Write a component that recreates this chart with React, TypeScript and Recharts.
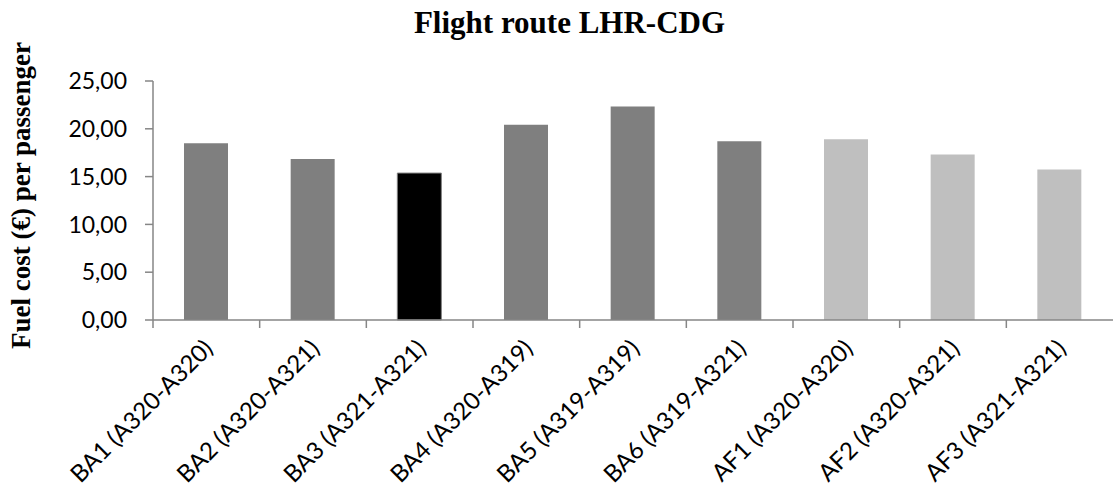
import { BarChart, Bar, XAxis, YAxis, Cell } from 'recharts';

const flights = [
  'BA1 (A320-A320)',
  'BA2 (A320-A321)',
  'BA3 (A321-A321)',
  'BA4 (A320-A319)',
  'BA5 (A319-A319)',
  'BA6 (A319-A321)',
  'AF1 (A320-A320)',
  'AF2 (A320-A321)',
  'AF3 (A321-A321)',
];
const fuelCost = [18.5, 16.85, 15.37, 20.42, 22.32, 18.7, 18.9, 17.3, 15.75];
const yTicks = [0, 5, 10, 15, 20, 25];
const highlighted = 'BA3 (A321-A321)';

const data = flights.map((name, i) => ({ name, cost: fuelCost[i] }));

const W = 1113;
const H = 489;
const LEFT = 153;
const AXIS = '#868686';
const BAND = (W - LEFT) / flights.length;

const fmt = (v: number) => v.toFixed(2).replace('.', ',');

function barColor(name: string) {
  if (name === highlighted) return '#000000';
  return name.startsWith('AF') ? '#bfbfbf' : '#7f7f7f';
}

function XTick(props: any) {
  const { x, y, payload } = props;
  const left = x - BAND / 2;
  const tx = x + 8;
  const ty = y + 30;
  return (
    <g>
      <line x1={left} y1={y} x2={left} y2={y + 8} stroke={AXIS} strokeWidth={1.5} />
      <text
        x={tx}
        y={ty}
        textAnchor="end"
        transform={`rotate(-45 ${tx} ${ty})`}
        fontFamily="Lato"
        fontSize={24}
        fill="#000"
      >
        {payload.value}
      </text>
    </g>
  );
}

function YLabel(props: any) {
  const { viewBox } = props;
  const cy = viewBox.y + viewBox.height / 2 - 5;
  return (
    <text
      x={30}
      y={cy}
      textAnchor="middle"
      transform={`rotate(-90 30 ${cy})`}
      fontFamily="Liberation Serif"
      fontWeight="bold"
      fontSize={27}
      fill="#000"
    >
      Fuel cost (€) per passenger
    </text>
  );
}

export default function App() {
  return (
    <div style={{ position: 'absolute', left: 0, top: 0, width: W, height: H, background: '#fff' }}>
      <div
        style={{
          position: 'absolute',
          left: 0,
          top: 7,
          width: 1139,
          textAlign: 'center',
          fontFamily: 'Liberation Serif',
          fontWeight: 'bold',
          fontSize: 31,
          lineHeight: '31px',
        }}
      >
        Flight route LHR-CDG
      </div>
      <BarChart width={W} height={H} data={data} margin={{ top: 81, right: 0, bottom: 0, left: 0 }}>
        <XAxis
          dataKey="name"
          interval={0}
          height={169}
          tickLine={false}
          tickSize={0}
          tickMargin={0}
          axisLine={{ stroke: AXIS, strokeWidth: 1.5 }}
          tick={<XTick />}
        />
        <YAxis
          width={LEFT}
          domain={[0, 25]}
          ticks={yTicks}
          tickFormatter={fmt}
          tickSize={8}
          tickMargin={18}
          axisLine={{ stroke: AXIS, strokeWidth: 1.5 }}
          tickLine={{ stroke: AXIS, strokeWidth: 1.5 }}
          tick={{ fontFamily: 'Lato', fontSize: 23, fill: '#000' }}
          label={<YLabel />}
        />
        <Bar dataKey="cost" barSize={44} isAnimationActive={false}>
          {data.map((d) => (
            <Cell
              key={d.name}
              fill={barColor(d.name)}
              stroke={d.name === highlighted ? '#7f7f7f' : 'none'}
              strokeWidth={1}
            />
          ))}
        </Bar>
      </BarChart>
    </div>
  );
}
